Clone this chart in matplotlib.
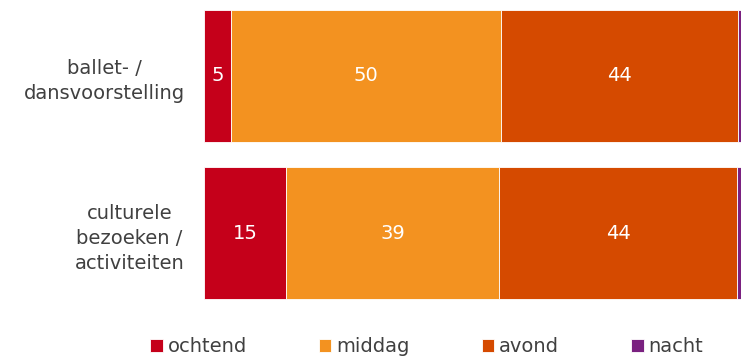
import numpy as np
import matplotlib.pyplot as plt

categories = ["ballet- /\ndansvoorstelling", "culturele\nbezoeken /\nactiviteiten"]
series = ["ochtend", "middag", "avond", "nacht"]
ochtend = [5.0, 15.3]
middag = [50.4, 39.6]
avond = [44.1, 44.4]
nacht = [0.5, 0.7]
labels = [["5", "50", "44", ""], ["15", "39", "44", ""]]

colors = ["#C5001A", "#F39220", "#D54A00", "#7A2180"]

fig = plt.figure(figsize=(7.42, 3.58), dpi=100)
ax = fig.add_axes([204 / 742, 1 - 312 / 358, 537 / 742, 312 / 358])

ypos = np.array([1, 0])
values = np.array([ochtend, middag, avond, nacht])
left = np.zeros(len(categories))
handles = []
for i, name in enumerate(series):
    bars = ax.barh(ypos, values[i], left=left, height=0.84, color=colors[i],
                   edgecolor="white", linewidth=0.6, label=name)
    handles.append(bars)
    for j in range(len(categories)):
        if labels[j][i]:
            ax.text(left[j] + values[i][j] / 2, ypos[j], labels[j][i],
                    ha="center", va="center", color="white", fontsize=14)
    left = left + values[i]

ax.set_xlim(0, 100)
ax.set_ylim(-0.503, 1.484)
ax.set_yticks(ypos)
ax.set_yticklabels(categories, fontsize=14, color="#404040",
                   multialignment="center", linespacing=1.4)
ax.tick_params(axis="y", length=0, pad=14)
ax.set_xticks([])
for s in ax.spines.values():
    s.set_visible(False)

fig.legend(handles=handles, labels=series, loc="center", ncol=4,
           bbox_to_anchor=(0.575, 1 - 347 / 358), frameon=False,
           fontsize=14, handlelength=0.65, handleheight=0.65,
           handletextpad=0.25, columnspacing=3.7, labelcolor="#404040")

fig.savefig("out.png", dpi=100)
